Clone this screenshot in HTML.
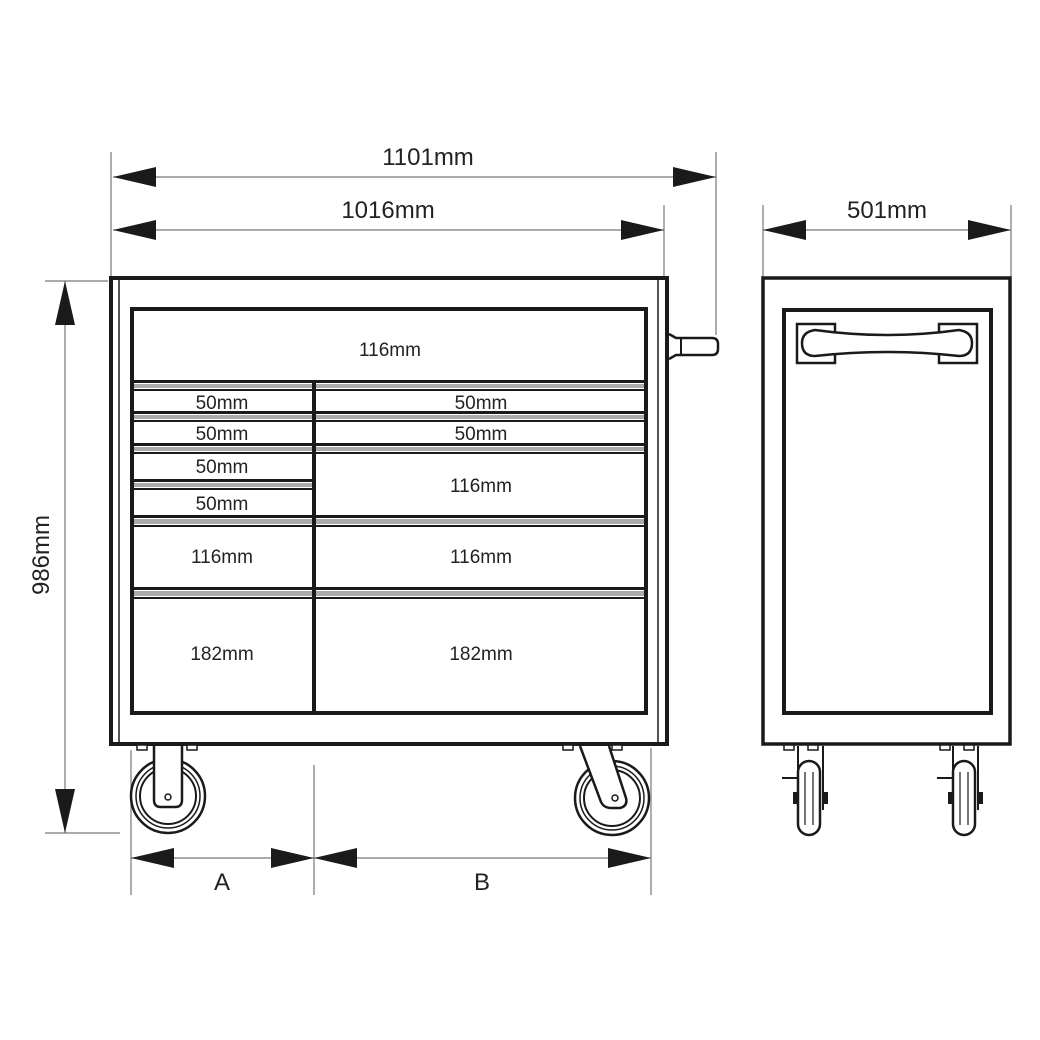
<!DOCTYPE html>
<html><head><style>html,body{margin:0;padding:0;background:#fff}svg{display:block}text{font-family:"Liberation Sans",sans-serif;fill:#222}</style></head>
<body>
<svg width="1040" height="1040" viewBox="0 0 1040 1040" xmlns="http://www.w3.org/2000/svg">
<g stroke="#777" stroke-width="1.2" fill="none">
<line x1="111" y1="152" x2="111" y2="277"/>
<line x1="716" y1="152" x2="716" y2="335"/>
<line x1="664" y1="205" x2="664" y2="277"/>
<line x1="113" y1="177" x2="716" y2="177"/>
<line x1="113" y1="230" x2="664" y2="230"/>
<line x1="45" y1="281" x2="108" y2="281"/>
<line x1="45" y1="833" x2="120" y2="833"/>
<line x1="65" y1="281" x2="65" y2="833"/>
<line x1="131" y1="750" x2="131" y2="895"/>
<line x1="314" y1="765" x2="314" y2="895"/>
<line x1="651" y1="748" x2="651" y2="895"/>
<line x1="131" y1="858" x2="651" y2="858"/>
<line x1="763" y1="205" x2="763" y2="277"/>
<line x1="1011" y1="205" x2="1011" y2="277"/>
<line x1="763" y1="230" x2="1011" y2="230"/>
</g>
<g fill="#1a1a1a">
<polygon points="113,177 156,167 156,187"/><polygon points="716,177 673,167 673,187"/>
<polygon points="113,230 156,220 156,240"/><polygon points="664,230 621,220 621,240"/>
<polygon points="65,281 55,325 75,325"/><polygon points="65,833 55,789 75,789"/>
<polygon points="131,858 174,848 174,868"/><polygon points="314,858 271,848 271,868"/>
<polygon points="314,858 357,848 357,868"/><polygon points="651,858 608,848 608,868"/>
<polygon points="763,230 806,220 806,240"/><polygon points="1011,230 968,220 968,240"/>
</g>
<g font-size="24" text-anchor="middle">
<text x="428" y="165">1101mm</text>
<text x="388" y="218">1016mm</text>
<text x="887" y="218">501mm</text>
<text transform="translate(49,555) rotate(-90)">986mm</text>
<text x="222" y="890" font-size="24">A</text>
<text x="482" y="890" font-size="24">B</text>
</g>
<!-- main cabinet -->
<rect x="111" y="278" width="556" height="466" fill="#fff" stroke="#1a1a1a" stroke-width="4"/>
<line x1="119" y1="280" x2="119" y2="742" stroke="#1a1a1a" stroke-width="1.5"/>
<line x1="658" y1="280" x2="658" y2="742" stroke="#1a1a1a" stroke-width="1.5"/>
<!-- handle -->
<path d="M669,334 L676,338 L712,338 Q718,338 718,344 L718,349 Q718,355 712,355 L676,355 L669,359" fill="#fff" stroke="#1a1a1a" stroke-width="2.5"/>
<line x1="681" y1="338" x2="681" y2="355" stroke="#1a1a1a" stroke-width="2"/>
<rect x="132" y="309" width="514" height="404" fill="#fff" stroke="#1a1a1a" stroke-width="4"/>
<line x1="314" y1="382" x2="314" y2="713" stroke="#1a1a1a" stroke-width="4"/>
<g id="rails">
<!-- left column rails -->
<g transform="translate(0,0)">
</g>
</g>
<g>
<!-- rail helper: thick line, gray band, thin line -->
<g fill="#1a1a1a">
<rect x="134" y="380" width="510" height="3"/>
<rect x="134" y="411" width="510" height="3"/>
<rect x="134" y="443" width="510" height="3"/>
<rect x="134" y="479" width="178" height="3"/>
<rect x="134" y="515" width="510" height="3"/>
<rect x="134" y="587" width="510" height="3"/>
<rect x="134" y="389" width="510" height="2"/>
<rect x="134" y="420" width="510" height="2"/>
<rect x="134" y="452" width="510" height="2"/>
<rect x="134" y="488" width="178" height="2"/>
<rect x="134" y="525" width="510" height="2"/>
<rect x="134" y="597" width="510" height="2"/>
</g>
<g fill="#aaa">
<rect x="134" y="384" width="510" height="4"/>
<rect x="134" y="415" width="510" height="4"/>
<rect x="134" y="447" width="510" height="4"/>
<rect x="134" y="483" width="178" height="4"/>
<rect x="134" y="519" width="510" height="5"/>
<rect x="134" y="591" width="510" height="5"/>
</g>
<line x1="314" y1="380" x2="314" y2="713" stroke="#1a1a1a" stroke-width="4"/>
</g>
<g font-size="19" text-anchor="middle">
<text x="390" y="356">116mm</text>
<text x="222" y="409">50mm</text><text x="481" y="409">50mm</text>
<text x="222" y="440">50mm</text><text x="481" y="440">50mm</text>
<text x="222" y="473">50mm</text><text x="481" y="492">116mm</text>
<text x="222" y="510">50mm</text>
<text x="222" y="563">116mm</text><text x="481" y="563">116mm</text>
<text x="222" y="660">182mm</text><text x="481" y="660">182mm</text>
</g>
<!-- left caster -->
<g stroke="#1a1a1a" fill="#fff">
<rect x="137" y="745" width="10" height="5" stroke-width="1.5"/>
<rect x="187" y="745" width="10" height="5" stroke-width="1.5"/>
<circle cx="168" cy="796" r="37" stroke-width="2.5"/>
<circle cx="168" cy="796" r="32" stroke-width="1.5"/>
<circle cx="168" cy="796" r="28" stroke-width="2"/>
<path d="M154,746 L154,800 Q154,807 161,807 L175,807 Q182,807 182,800 L182,746" stroke-width="2.5"/>
<circle cx="168" cy="797" r="3" stroke-width="1.5"/>
<!-- right caster -->
<rect x="563" y="745" width="10" height="5" stroke-width="1.5"/>
<rect x="612" y="745" width="10" height="5" stroke-width="1.5"/>
<circle cx="612" cy="798" r="37" stroke-width="2.5"/>
<circle cx="612" cy="798" r="32" stroke-width="1.5"/>
<circle cx="612" cy="798" r="28" stroke-width="2"/>
<path d="M580,746 L601,802 Q604,808 611,808 L620,808 Q628,806 626,798 L609,746" stroke-width="2.5"/>
<circle cx="615" cy="798" r="3" stroke-width="1.5"/>
</g>
<!-- side view -->
<rect x="763" y="278" width="247" height="466" fill="#fff" stroke="#1a1a1a" stroke-width="3.5"/>
<rect x="784" y="310" width="207" height="403" fill="#fff" stroke="#1a1a1a" stroke-width="4"/>
<rect x="797" y="324" width="38" height="39" fill="#fff" stroke="#1a1a1a" stroke-width="2.5"/>
<rect x="939" y="324" width="38" height="39" fill="#fff" stroke="#1a1a1a" stroke-width="2.5"/>
<path d="M815,330 Q887,340 959,330 Q972,332 972,343 Q972,356 959,356 Q887,348 815,356 Q802,356 802,343 Q802,332 815,330 Z" fill="#fff" stroke="#1a1a1a" stroke-width="2.5"/>
<g stroke="#1a1a1a" fill="#fff" stroke-width="2">
<rect x="784" y="745" width="10" height="5" stroke-width="1.5"/>
<rect x="808" y="745" width="10" height="5" stroke-width="1.5"/>
<line x1="798" y1="746" x2="798" y2="810"/>
<line x1="823" y1="746" x2="823" y2="810"/>
<line x1="782" y1="778" x2="798" y2="778"/>
<rect x="793" y="792" width="6" height="12" fill="#1a1a1a" stroke="none"/>
<rect x="822" y="792" width="6" height="12" fill="#1a1a1a" stroke="none"/>
<rect x="798" y="761" width="22" height="74" rx="11" stroke-width="2.5"/>
<line x1="805" y1="772" x2="805" y2="825" stroke-width="1.2"/>
<line x1="813" y1="772" x2="813" y2="825" stroke-width="1.2"/>
<rect x="940" y="745" width="10" height="5" stroke-width="1.5"/>
<rect x="964" y="745" width="10" height="5" stroke-width="1.5"/>
<line x1="953" y1="746" x2="953" y2="810"/>
<line x1="978" y1="746" x2="978" y2="810"/>
<line x1="937" y1="778" x2="953" y2="778"/>
<rect x="948" y="792" width="6" height="12" fill="#1a1a1a" stroke="none"/>
<rect x="977" y="792" width="6" height="12" fill="#1a1a1a" stroke="none"/>
<rect x="953" y="761" width="22" height="74" rx="11" stroke-width="2.5"/>
<line x1="960" y1="772" x2="960" y2="825" stroke-width="1.2"/>
<line x1="968" y1="772" x2="968" y2="825" stroke-width="1.2"/>
</g>
</svg>
</body></html>
